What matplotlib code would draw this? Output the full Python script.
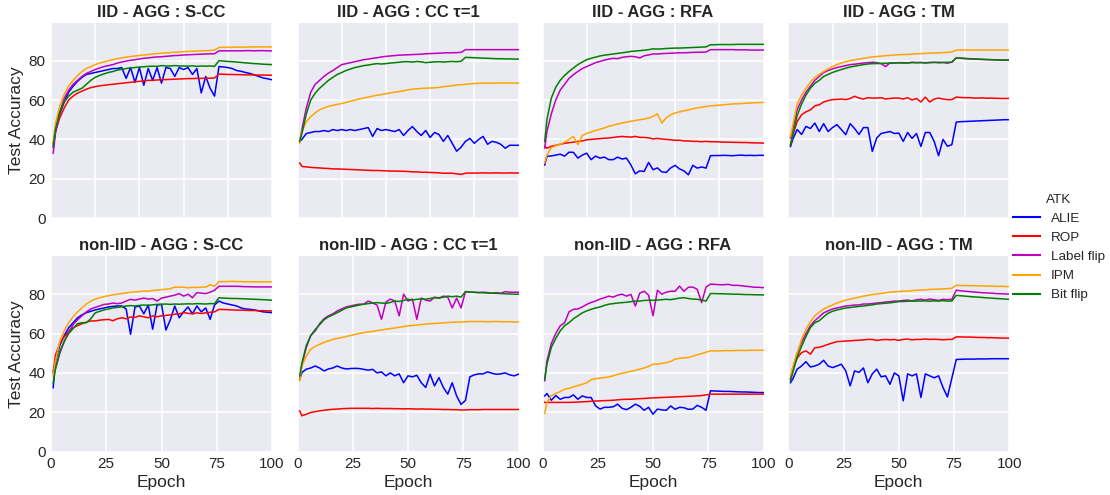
import matplotlib
matplotlib.use("Agg")
import matplotlib.pyplot as plt
from matplotlib.lines import Line2D

# Epochs at which test accuracy was recorded
EPOCHS = [1] + list(range(2, 101, 2))

ATTACKS = ["ALIE", "ROP", "Label flip", "IPM", "Bit flip"]
COLORS = ["#0000ff", "#ff0000", "#bf00bf", "#ffa500", "#008000"]

# ---------------- IID - AGG : S-CC ----------------
IID_SCC_ALIE = [36, 44, 53, 59, 64, 67, 69.5, 71.5, 73, 73.5,
                74, 74.5, 75, 75.5, 76, 76, 76.5, 71, 76.5, 69,
                76.5, 67.5, 76, 70, 76.5, 68.6, 76.5, 76, 72, 76.5,
                75.5, 76.5, 73, 76, 63.6, 72, 66, 62, 77, 76.8,
                76.5, 76, 75, 74.6, 74, 73.5, 72.8, 72, 71.2, 70.8, 70.3]
IID_SCC_ROP = [38, 44, 51, 56, 60, 62, 63.5, 64.5, 65.5, 66.3,
               66.8, 67.2, 67.5, 67.8, 68, 68.3, 68.5, 68.8, 69, 69.3,
               69.5, 69.7, 70, 70, 70.2, 70.3, 70.4, 70.5, 70.6, 70.7,
               70.8, 70.9, 70.9, 71, 71, 71.1, 71.1, 71.2, 73.2, 73.1,
               73, 73, 72.9, 72.9, 72.8, 72.8, 72.7, 72.7, 72.7, 72.6, 72.6]
IID_SCC_LABEL = [33, 43, 54, 61, 65, 68, 70, 72, 73.5, 74.5,
                 75.5, 76.3, 77, 77.5, 78, 78.8, 79.3, 79.8, 80.2, 80.5,
                 80.9, 81.2, 81.4, 81.7, 81.9, 82, 82.2, 82.4, 82.6, 82.7,
                 82.9, 83, 83.1, 83.2, 83.3, 83.4, 83.5, 83.5, 85, 85,
                 85, 85, 85, 85, 85.1, 85.1, 85, 85.1, 85.1, 85, 85]
IID_SCC_IPM = [38, 48, 57, 63, 67, 70, 72.5, 74.5, 76, 77,
               78, 78.8, 79.4, 80, 80.5, 81, 81.4, 81.8, 82.1, 82.4,
               82.6, 82.9, 83.1, 83.4, 83.6, 83.8, 84, 84.1, 84.3, 84.4,
               84.6, 84.7, 84.8, 84.9, 85, 85.1, 85.2, 85.4, 86.7, 86.8,
               86.8, 86.8, 86.9, 86.9, 86.9, 87, 87, 87, 87, 87, 87]
IID_SCC_BIT = [37, 45, 54, 59, 62, 64, 65, 66, 68, 70,
               71.5, 72.5, 73.3, 74, 74.5, 75.2, 75.6, 76, 76.3, 76.5,
               76.8, 76.9, 77.1, 77.2, 77.1, 77.5, 77.3, 77.3, 77.5, 77.3,
               77.3, 77.2, 77.4, 77.1, 77.3, 77.2, 77.3, 77.1, 80, 79.8,
               79.6, 79.5, 79.3, 79.1, 78.9, 78.7, 78.5, 78.4, 78.2, 78.1, 78]

# ---------------- IID - AGG : CC tau=1 ----------------
IID_CC_ALIE = [39, 40, 43, 43.5, 44, 44, 44.5, 44, 45, 44.5,
               45, 44.5, 45, 44.5, 45, 45.5, 46, 41.5, 45.5, 44.5,
               45, 44.5, 44, 45, 42, 44.5, 46.5, 44, 42, 44.5,
               41, 43.5, 42.5, 39, 42, 38, 34, 36, 39, 40.5,
               38, 40, 41.5, 37.5, 39, 38.5, 37.5, 35.5, 37, 37, 37]
IID_CC_ROP = [28, 26.3, 26, 25.8, 25.6, 25.5, 25.3, 25.2, 25, 25,
              24.9, 24.8, 24.7, 24.6, 24.5, 24.4, 24.3, 24.2, 24.2, 24.1,
              24, 23.9, 23.9, 23.8, 23.8, 23.7, 23.5, 23.5, 23.3, 23.3,
              23.2, 23.1, 23, 22.8, 22.8, 22.8, 22.5, 22.2, 22.8, 22.9,
              22.9, 22.9, 23, 22.9, 22.9, 23, 22.9, 22.9, 23, 22.9, 22.9]
IID_CC_LABEL = [39, 45, 56, 64, 68, 70, 72, 73.7, 75, 76.5,
                78, 78.5, 79, 79.5, 80, 80.5, 80.8, 81.2, 81.5, 81.9,
                82.2, 82.4, 82.6, 82.8, 82.9, 83, 83.1, 83.2, 83.3, 83.5,
                83.6, 83.7, 83.8, 83.9, 84, 84, 84.1, 84.2, 85.6, 85.6,
                85.6, 85.6, 85.6, 85.6, 85.6, 85.6, 85.6, 85.6, 85.6, 85.6, 85.6]
IID_CC_IPM = [38, 44, 49, 51.5, 53.5, 55, 56, 56.8, 57.3, 57.8,
              58.2, 58.8, 59.4, 60, 60.6, 61, 61.5, 62, 62.4, 62.8,
              63.2, 63.6, 64, 64.3, 64.7, 65.2, 65.5, 65.7, 65.9, 66,
              66.1, 66.2, 66.4, 66.8, 67, 67.3, 67.6, 67.8, 68, 68.2,
              68.4, 68.5, 68.6, 68.6, 68.6, 68.6, 68.7, 68.6, 68.7, 68.6, 68.6]
IID_CC_BIT = [39, 43, 53, 60, 63.5, 66, 68, 70, 71.5, 73,
              74, 75, 75.8, 76.5, 77, 77.5, 77.8, 78.2, 78.5, 78.3,
              78.5, 78.8, 79, 79.2, 79.5, 79.5, 79.3, 79.6, 79.4, 79,
              79.2, 79.4, 79.5, 79.3, 79.5, 79.6, 79.5, 79.7, 81.7, 81.6,
              81.5, 81.4, 81.3, 81.2, 81.1, 81, 81, 80.9, 80.9, 80.8, 80.8]

# ---------------- IID - AGG : RFA ----------------
IID_RFA_ALIE = [27, 31.4, 31.6, 32, 32.5, 31.5, 33.5, 33.4, 30.5, 32,
                33, 29.7, 31.5, 30.5, 31, 29.7, 29.7, 31, 30, 30.5,
                27, 22.5, 24, 23.7, 28.3, 24.6, 25.5, 23.5, 23.2, 25.5,
                26.8, 25, 24, 22, 26.8, 25.4, 26, 25.4, 31.7, 31.8,
                31.8, 31.9, 31.8, 31.7, 31.9, 32, 31.8, 31.9, 31.8, 31.9, 31.9]
IID_RFA_ROP = [36.4, 35.5, 36.5, 37, 37.5, 38, 38.3, 38.6, 39, 39.2,
               39.8, 40, 40.2, 40.4, 40.6, 40.7, 41, 41.3, 41.5, 41.3,
               41.2, 41.5, 41, 41, 40.8, 40.2, 40.5, 40.2, 40, 39.8,
               39.5, 39.6, 39.2, 39.2, 39, 39, 38.8, 39, 38.8, 38.8,
               38.7, 38.6, 38.6, 38.5, 38.5, 38.4, 38.4, 38.3, 38.2, 38.2, 38.1]
IID_RFA_LABEL = [35.6, 44, 53, 60, 65, 68, 71, 72.9, 74.5, 76,
                 77, 78, 79, 79.6, 80.3, 80.8, 81.2, 81, 81.7, 82,
                 82.2, 82, 81.4, 82.5, 82.9, 83.4, 83.4, 83.6, 83.7, 83.8,
                 83.9, 84, 84, 84.1, 84.2, 84.3, 84.3, 84.4, 85.6, 85.6,
                 85.6, 85.6, 85.6, 85.6, 85.5, 85.5, 85.5, 85.4, 85.4, 85.4, 85.4]
IID_RFA_IPM = [28, 32, 35.8, 36.8, 37.5, 38.5, 40, 41.5, 37.3, 42,
               43, 43.8, 44.5, 45.2, 45.8, 46.6, 47.2, 47.8, 48.3, 48.8,
               49.2, 49.6, 50, 50.3, 50.8, 51.7, 53, 48.3, 51, 52.5,
               53.4, 54, 54.5, 55, 55.5, 56, 56.3, 56.7, 57, 57.2,
               57.4, 57.6, 57.8, 58, 58.1, 58.2, 58.4, 58.5, 58.6, 58.7, 58.8]
IID_RFA_BIT = [39, 50, 61, 66.5, 70, 72.5, 74.5, 76.3, 78, 79.3,
               80.5, 81.2, 81.8, 82.4, 82.8, 83.1, 83.4, 83.7, 84, 84.3,
               84.7, 84.9, 85.1, 85.3, 85.6, 86, 85.9, 86, 86.2, 86.3,
               86.4, 86.4, 86.5, 86.6, 86.7, 86.8, 86.9, 87, 88.1, 88.1,
               88.2, 88.2, 88.2, 88.2, 88.3, 88.3, 88.3, 88.3, 88.3, 88.3, 88.3]

# ---------------- IID - AGG : TM ----------------
IID_TM_ALIE = [36.4, 40, 45, 42.5, 46.6, 45.5, 48.3, 44, 48, 44,
               46, 47.5, 45, 42.4, 48, 45.5, 42.5, 46, 46, 33.9,
               40.7, 43, 43.5, 44, 43, 43.2, 39, 43.5, 40.5, 43,
               36.4, 43.5, 43.5, 39, 31.7, 40, 36.5, 37.3, 48.8, 49,
               49.1, 49.2, 49.3, 49.4, 49.5, 49.6, 49.7, 49.8, 49.9, 50, 50]
IID_TM_ROP = [37.3, 42, 49, 52.5, 54, 55, 57, 57.6, 59, 59.7,
              60.2, 60.3, 60.5, 60.2, 60.8, 61.9, 61, 60.5, 61.2, 61,
              61, 61.2, 60.5, 60.8, 61, 61, 60.5, 61.2, 60, 60.8,
              59, 61.5, 59, 60.5, 61, 60.5, 60.2, 60.2, 61.5, 61.3,
              61.2, 61.2, 61, 61, 61.1, 60.9, 61, 60.9, 60.8, 60.8, 60.8]
IID_TM_LABEL = [40.7, 45, 55, 60, 64, 67, 70, 72, 74, 75,
                75.8, 76.5, 77, 77.5, 78, 78.2, 78.5, 78.8, 79, 79.2,
                79, 78.5, 77, 78.8, 78.9, 79, 79, 78.8, 79.2, 79,
                79.1, 78.8, 79, 79.2, 78.9, 79.1, 78.7, 79.3, 81.4, 81.2,
                81, 80.9, 80.8, 80.7, 80.6, 80.5, 80.5, 80.4, 80.4, 80.3, 80.3]
IID_TM_IPM = [41.5, 47, 58, 62.5, 66, 69, 71.5, 73, 74.5, 75.8,
              77, 78, 78.8, 79.5, 80, 80.4, 80.8, 81.2, 81.6, 81.9,
              82.1, 82.3, 82.5, 82.7, 82.9, 83, 83.1, 83.2, 83.3, 83.5,
              83.6, 83.7, 83.8, 83.9, 84, 84.1, 84.2, 84.4, 85.4, 85.4,
              85.4, 85.4, 85.4, 85.4, 85.4, 85.4, 85.4, 85.4, 85.4, 85.4, 85.4]
IID_TM_BIT = [37.3, 42, 52, 58, 62.5, 66, 68.5, 70, 72, 73,
              74, 74.8, 75.5, 76.2, 76.8, 77.2, 77.6, 78, 78.3, 78.5,
              78.5, 78.6, 78.7, 78.8, 78.8, 78.9, 78.8, 78.9, 79, 79,
              79, 79, 79.1, 79.1, 79.2, 79.1, 79.2, 79.2, 81.4, 81.3,
              81.2, 81, 80.9, 80.8, 80.7, 80.6, 80.5, 80.4, 80.3, 80.3, 80.2]

# ---------------- non-IID - AGG : S-CC ----------------
NIID_SCC_ALIE = [32.5, 46, 54, 59, 63, 65.5, 68, 69.5, 70.6, 71.3,
                 72, 72.5, 73, 73.5, 73.8, 74, 74, 72.5, 59.6, 73.5,
                 74, 70, 74.5, 62.2, 74.5, 74.8, 61.8, 67, 74, 68,
                 71, 73.5, 70, 74, 71, 73, 67.2, 74.5, 76.5, 75.5,
                 75, 74.5, 74, 73, 72.5, 72.3, 72, 71.5, 71, 70.8, 70.6]
NIID_SCC_ROP = [40, 49, 55, 58.5, 61, 63, 64, 65, 65.8, 66.4,
                66.4, 66.8, 67, 67.2, 66.5, 67.5, 68, 67.5, 68.4, 68.2,
                69, 68.5, 68, 69, 68.5, 69, 69.2, 69.5, 69.8, 70,
                70.6, 70.3, 70, 70.5, 70.2, 70.5, 70.8, 71, 72.3, 72.2,
                72.1, 72, 71.9, 71.9, 71.8, 71.7, 71.7, 71.6, 71.6, 71.5, 71.5]
NIID_SCC_LABEL = [41, 42, 50, 56, 61, 64.5, 67, 69, 71, 72.5,
                  73.3, 74, 74.8, 75, 75.5, 75.2, 75.5, 76.5, 77.4, 77,
                  77.5, 78, 77.5, 77.8, 76.5, 78, 78.5, 79, 79.5, 80.3,
                  79, 80, 78.2, 80.8, 80.5, 80.3, 81, 82, 84, 84,
                  84, 84, 84, 83.9, 83.8, 83.8, 83.7, 83.7, 83.7, 83.7, 83.7]
NIID_SCC_IPM = [38.5, 46, 56, 61.5, 65.5, 68.5, 71, 73, 75, 76.5,
                77.5, 78.2, 78.8, 79.2, 79.7, 80, 80.3, 80.6, 81, 81.2,
                81.3, 81.6, 81.5, 81.9, 82, 82.3, 82.5, 82.8, 83.6, 83.5,
                83.6, 83.2, 83.5, 83.4, 83.6, 83.6, 84.8, 84, 86.4, 86.4,
                86.4, 86.5, 86.4, 86.4, 86.3, 86.3, 86.3, 86.3, 86.3, 86.3, 86.3]
NIID_SCC_BIT = [35, 42, 51, 56, 60, 62.5, 65, 65.5, 65.5, 67.5,
                70.5, 71.3, 72, 72.5, 73, 73.3, 73.6, 74, 74.2, 74,
                74.3, 74.5, 74.3, 74.6, 74.8, 74.9, 75, 74.8, 75, 74.9,
                75, 75.1, 75, 75.2, 75.1, 75, 75.2, 75.2, 78.2, 78,
                77.9, 77.8, 77.8, 77.7, 77.6, 77.5, 77.4, 77.3, 77.2, 77.1, 76.9]

# ---------------- non-IID - AGG : CC tau=1 ----------------
NIID_CC_ALIE = [36.8, 40.2, 41.9, 42.5, 43.5, 42.5, 41, 42, 42.5, 43.5,
                42.5, 42, 42.2, 42.3, 42.2, 41.8, 41.4, 41.8, 40, 40.5,
                38.5, 40, 38.5, 39.5, 35, 38.5, 38, 38.8, 35, 32.6,
                39.3, 33.4, 37.6, 32.6, 29.2, 35, 28.3, 24, 26, 38,
                39, 39.5, 39.5, 40.5, 39.8, 39.3, 39.5, 40, 39, 38.5, 39.3]
NIID_CC_ROP = [20.7, 18.2, 19, 19.9, 20.3, 20.7, 21, 21.3, 21.5, 21.6,
               21.8, 21.9, 22, 22, 22, 22, 22, 21.9, 22, 21.9,
               21.9, 21.9, 21.8, 21.8, 21.7, 21.8, 21.7, 21.6, 21.7, 21.6,
               21.6, 21.5, 21.5, 21.4, 21.4, 21.3, 21.3, 21.1, 21.2, 21.3,
               21.3, 21.3, 21.4, 21.4, 21.4, 21.4, 21.4, 21.4, 21.4, 21.4, 21.4]
NIID_CC_LABEL = [36.8, 44, 53, 59, 61.3, 65, 67.5, 69, 70, 71.5,
                 72.5, 73.5, 74, 74.5, 74.9, 74.9, 76.5, 75.5, 74.5, 67.2,
                 76, 77.5, 76.5, 69, 80, 76.5, 77.5, 67.2, 78, 77,
                 76.5, 78.5, 78, 79, 78.5, 73, 78, 73, 81.3, 81,
                 81, 80.8, 81, 80.8, 80.5, 80.8, 80.5, 81.3, 81, 81, 81]
NIID_CC_IPM = [36, 43.5, 48.5, 52, 53.5, 54.5, 55.5, 56.3, 57, 57.5,
               58, 58.5, 59, 59.5, 60, 60.5, 60.8, 61.1, 61.5, 61.8,
               62.2, 62.5, 62.8, 63.2, 63.5, 63.9, 64.1, 64.3, 64.6, 64.8,
               65, 65.1, 65.3, 65.4, 65.6, 65.7, 65.8, 65.9, 66, 66.1,
               66.1, 66.1, 66.1, 66, 66.1, 66.1, 66, 66, 66, 65.9, 65.9]
NIID_CC_BIT = [38.5, 45, 54, 59, 62, 64.5, 67, 68.5, 69.5, 70.6,
               71.8, 73, 73.5, 74, 74.5, 74.9, 75.2, 75.5, 75.7, 75.5,
               75.3, 75.8, 76.5, 76.3, 76.8, 77.4, 77, 77.4, 77.6, 77.4,
               77.8, 78.2, 78, 78.5, 79, 78.7, 79, 78.5, 81.3, 81.1,
               80.9, 80.8, 80.7, 80.6, 80.5, 80.4, 80.3, 80.2, 80.1, 80, 80]

# ---------------- non-IID - AGG : RFA ----------------
NIID_RFA_ALIE = [28.3, 29.5, 26.1, 28.5, 26.6, 27.5, 27.5, 28.8, 26.6, 28.3,
                 27.5, 27.5, 23.3, 21.6, 22.5, 22.5, 22.8, 24.1, 22, 21.3,
                 22.5, 24.1, 23, 21, 22.5, 19, 21.6, 21.2, 21, 23.2,
                 21.5, 22.5, 22.3, 21.5, 21.6, 23.5, 22.5, 21, 30.9, 30.8,
                 30.7, 30.6, 30.6, 30.5, 30.4, 30.3, 30.3, 30.2, 30.1, 30, 30]
NIID_RFA_ROP = [25, 25, 25, 25, 25, 25, 25, 25.1, 25.2, 25.3,
                25.4, 25.6, 25.7, 25.8, 25.9, 26, 26.1, 26.3, 26.5, 26.6,
                26.6, 26.8, 26.9, 27, 27.2, 27.3, 27.4, 27.5, 27.6, 27.7,
                27.8, 27.9, 28, 28.1, 28.2, 28.3, 28.5, 28.8, 29.2, 29.2,
                29.2, 29.2, 29.2, 29.2, 29.2, 29.2, 29.2, 29.2, 29.2, 29.2, 29.2]
NIID_RFA_LABEL = [36, 46, 55, 60, 63.9, 65.5, 71, 72.3, 72.5, 73.5,
                  74.8, 75.8, 76.5, 77.5, 78.2, 79, 78.5, 79.5, 80, 79,
                  79.9, 74, 80.5, 81.5, 79.5, 69, 82, 80, 81, 81.5,
                  81.5, 84.1, 81.5, 83.5, 83.6, 82.5, 75.7, 83.6, 85.1, 85,
                  84.8, 84.8, 85, 84.5, 84.5, 84.3, 84, 83.8, 83.5, 83.5, 83.3]
NIID_RFA_IPM = [19.4, 25, 28.5, 29.5, 30.5, 31.7, 32.2, 32.9, 33.5, 34.2,
                35, 36.5, 37.1, 37.3, 37.6, 38, 38.5, 39.3, 39.8, 40.3,
                40.8, 41.3, 41.9, 42.5, 43.3, 44.4, 44.5, 44.8, 45.2, 45.8,
                47, 47.4, 47.6, 47.8, 48.5, 49.2, 49.8, 50.5, 51.2, 51.2,
                51.2, 51.3, 51.3, 51.3, 51.4, 51.4, 51.4, 51.5, 51.5, 51.5, 51.5]
NIID_RFA_BIT = [36.8, 44.4, 53, 57.5, 61.3, 64, 65.5, 67.5, 69, 70.5,
                71.5, 72.3, 73, 73.5, 74.3, 74.9, 75.2, 75.5, 75.7, 75.9,
                76.2, 76.5, 76.5, 76.8, 76.9, 76.9, 77, 77.2, 77.4, 77.2,
                77.6, 78, 78.2, 77.8, 77.5, 77.4, 77, 76.5, 80.3, 80.3,
                80.2, 80.2, 80.1, 80, 80, 79.9, 79.8, 79.8, 79.7, 79.7, 79.6]

# ---------------- non-IID - AGG : TM ----------------
NIID_TM_ALIE = [35, 36.8, 41.9, 43.5, 45.7, 43, 43.5, 44.4, 46.4, 43.5,
                42.7, 43.5, 44.4, 41, 33.4, 41, 40.3, 42.5, 35, 39.5,
                41.9, 38, 38.5, 34.2, 40, 38.5, 25.8, 39.5, 38.5, 39.5,
                27.5, 39.5, 38.5, 37.5, 38.5, 32.6, 27.8, 37.3, 46.8, 46.9,
                47, 47, 47, 47.1, 47.1, 47.1, 47.2, 47.2, 47.2, 47.2, 47.2]
NIID_TM_ROP = [36.8, 42, 47.5, 50.3, 51.2, 49.5, 52.8, 53, 53.7, 54.5,
               55.2, 55.9, 56, 56.2, 56.3, 56.5, 56.6, 56.8, 57, 57,
               56.5, 56.8, 57, 56.8, 57, 56.5, 57, 57.2, 56.8, 57,
               57, 57.2, 57, 57.1, 57, 56.8, 57, 57, 58.3, 58.3,
               58.2, 58.2, 58.1, 58, 58, 57.9, 57.9, 57.8, 57.7, 57.7, 57.6]
NIID_TM_LABEL = [36.8, 42, 50, 55.5, 60, 64, 66.5, 68.5, 70.5, 71.5,
                 72.5, 73, 73.5, 74, 74.2, 74.5, 74.5, 75, 75, 75.2,
                 75.5, 75.7, 76, 76.2, 76.5, 76.5, 76.8, 77, 76.5, 77.2,
                 77.4, 77, 77.5, 77.2, 76.8, 77.4, 77.2, 77.4, 82, 81.7,
                 81.5, 81.3, 81.1, 80.9, 80.7, 80.6, 80.5, 80.3, 80.2, 80.1, 80]
NIID_TM_IPM = [38.5, 43, 50, 57, 62.2, 66, 69, 70.8, 72.5, 73.5,
               74.5, 75.5, 76.3, 77, 77.5, 78, 78.5, 79, 79.4, 79.8,
               80.1, 80.4, 80.7, 81, 81.2, 81.3, 81.5, 81.6, 81.8, 82,
               82.1, 82.2, 82.4, 82.5, 82.6, 82.7, 82.8, 83, 84.5, 84.4,
               84.4, 84.3, 84.3, 84.2, 84.2, 84.1, 84.1, 84, 84, 83.9, 83.9]
NIID_TM_BIT = [36, 40, 48, 53.5, 58.5, 63, 65.5, 66.5, 68.5, 70.3,
               71.3, 72, 72.5, 73, 73.2, 73.5, 73.8, 74, 74.3, 74.6,
               75, 75.2, 75.4, 75.6, 75.9, 76.2, 76.3, 76.4, 76.5, 76.5,
               76.5, 76.6, 76.4, 76.6, 76.5, 76.7, 76.5, 76.5, 79.4, 79.2,
               79, 78.8, 78.6, 78.5, 78.3, 78.1, 78, 77.8, 77.7, 77.5, 77.4]

PANELS = [
    ("IID - AGG : S-CC", [IID_SCC_ALIE, IID_SCC_ROP, IID_SCC_LABEL, IID_SCC_IPM, IID_SCC_BIT]),
    ("IID - AGG : CC \u03c4=1", [IID_CC_ALIE, IID_CC_ROP, IID_CC_LABEL, IID_CC_IPM, IID_CC_BIT]),
    ("IID - AGG : RFA", [IID_RFA_ALIE, IID_RFA_ROP, IID_RFA_LABEL, IID_RFA_IPM, IID_RFA_BIT]),
    ("IID - AGG : TM", [IID_TM_ALIE, IID_TM_ROP, IID_TM_LABEL, IID_TM_IPM, IID_TM_BIT]),
    ("non-IID - AGG : S-CC", [NIID_SCC_ALIE, NIID_SCC_ROP, NIID_SCC_LABEL, NIID_SCC_IPM, NIID_SCC_BIT]),
    ("non-IID - AGG : CC \u03c4=1", [NIID_CC_ALIE, NIID_CC_ROP, NIID_CC_LABEL, NIID_CC_IPM, NIID_CC_BIT]),
    ("non-IID - AGG : RFA", [NIID_RFA_ALIE, NIID_RFA_ROP, NIID_RFA_LABEL, NIID_RFA_IPM, NIID_RFA_BIT]),
    ("non-IID - AGG : TM", [NIID_TM_ALIE, NIID_TM_ROP, NIID_TM_LABEL, NIID_TM_IPM, NIID_TM_BIT]),
]

TEXT = "#262626"
plt.rcParams.update({
    "font.family": ["Liberation Sans", "DejaVu Sans"],
    "text.color": TEXT,
    "axes.labelcolor": TEXT,
    "xtick.color": TEXT,
    "ytick.color": TEXT,
})

W, H = 1110, 495
fig = plt.figure(figsize=(W / 100, H / 100), dpi=100)

COL_LEFT = [51, 297.5, 542.5, 788.3]
ROW_TOP = [22.5, 256]
AX_W, AX_H = 221, 195.6

for i, (title, series) in enumerate(PANELS):
    r, c = divmod(i, 4)
    ax = fig.add_axes([COL_LEFT[c] / W, 1 - (ROW_TOP[r] + AX_H) / H, AX_W / W, AX_H / H])
    ax.set_facecolor("#EAEAF2")
    for sp in ax.spines.values():
        sp.set_visible(False)
    ax.grid(True, color="white", linewidth=1.1)
    ax.set_axisbelow(True)
    for vals, name, col in zip(series, ATTACKS, COLORS):
        assert len(vals) == len(EPOCHS)
        ax.plot(EPOCHS, vals, color=col, linewidth=1.1, label=name)
    ax.set_xlim(0, 100)
    ax.set_ylim(0, 99.4)
    ax.set_yticks([0, 20, 40, 60, 80])
    ax.tick_params(length=0, labelsize=11, pad=4)
    if r == 0:
        ax.set_xticks([0, 20, 40, 60, 80, 100])
        ax.tick_params(labelbottom=False)
    else:
        ax.set_xticks([0, 25, 50, 75, 100])
        ax.set_xlabel("Epoch", fontsize=12.5, labelpad=3)
    if c == 0:
        ax.set_ylabel("Test Accuracy", fontsize=12.5, labelpad=3)
    else:
        ax.tick_params(labelleft=False)
    ax.set_title(title, fontsize=12, fontweight="bold", pad=4)

handles = [Line2D([], [], color=col, linewidth=1.5) for col in COLORS]
fig.legend(handles, ATTACKS, title="ATK", loc="center left",
           bbox_to_anchor=(0.9015, 0.5), frameon=False,
           fontsize=9.7, title_fontsize=9.7)

fig.savefig("out.png", dpi=100)
